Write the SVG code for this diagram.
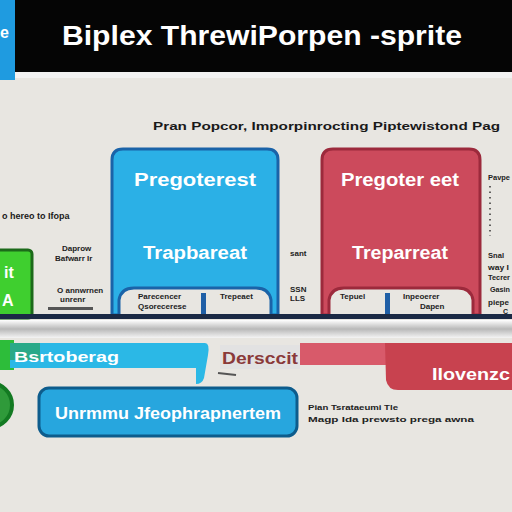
<svg xmlns="http://www.w3.org/2000/svg" width="512" height="512" viewBox="0 0 512 512">
<defs>
<linearGradient id="band" x1="0" y1="0" x2="0" y2="1">
<stop offset="0" stop-color="#ffffff"/><stop offset="0.5" stop-color="#b9b9b9"/><stop offset="1" stop-color="#f4f4f4"/>
</linearGradient>
</defs>
<style>
text{font-family:"Liberation Sans",Arial,sans-serif;font-weight:bold}
.w{fill:#ffffff}
.k{fill:#1a1a1a}
.sm{font-size:8px;fill:#222}
.rt{font-size:7px;fill:#222}
.lbl{font-size:18px;fill:#fff}
.bluebox{fill:#2bb0e6;stroke:#1a63a8;stroke-width:3}
.redbox{fill:#cc4a5c;stroke:#9c2a3c;stroke-width:3}
.bar{fill:#1f5fa6}
</style>
<rect x="0" y="0" width="512" height="512" fill="#e8e6e1"/>
<g id="header">
<rect x="0" y="0" width="512" height="72" fill="#050505"/>
<rect x="0" y="0" width="15" height="80" fill="#1f9be0"/>
<text x="0" y="38" font-size="16" class="w">e</text>
<rect x="15" y="72" width="497" height="6" fill="#f2f2f2"/>
<text x="62" y="45" font-size="27" class="w" textLength="400" lengthAdjust="spacingAndGlyphs">Biplex ThrewiPorpen -sprite</text>
</g>
<g id="subtitle">
<text x="153" y="130" font-size="11.5" class="k" textLength="347" lengthAdjust="spacingAndGlyphs">Pran Popcor, Imporpinrocting Piptewistond Pag</text>
</g>
<g id="node-blue">
<path class="bluebox" d="M112 160 Q112 149 123 149 H267 Q278 149 278 160 V315 H271 V300 Q269 288 256 288 H134 Q121 288 119 300 V315 H112 Z"/>
<text x="195" y="186" text-anchor="middle" class="lbl" textLength="122" lengthAdjust="spacingAndGlyphs">Pregoterest</text>
<text x="195" y="259" text-anchor="middle" class="lbl" textLength="104" lengthAdjust="spacingAndGlyphs">Trapbareat</text>
</g>
<g id="node-red">
<path class="redbox" d="M322 160 Q322 149 333 149 H469 Q480 149 480 160 V315 H473 V300 Q471 288 458 288 H344 Q331 288 329 300 V315 H322 Z"/>
<text x="400" y="186" text-anchor="middle" class="lbl" textLength="118" lengthAdjust="spacingAndGlyphs">Pregoter eet</text>
<text x="400" y="259" text-anchor="middle" class="lbl" textLength="96" lengthAdjust="spacingAndGlyphs">Treparreat</text>
</g>
<g id="node-green">
<rect x="-4" y="250" width="36" height="68" rx="4" fill="#3fcf2f" stroke="#1c6a1a" stroke-width="3"/>
<text x="4" y="278" font-size="16" class="w">it</text>
<text x="2" y="306" font-size="16" class="w">A</text>
</g>
<g id="connectors">
<rect class="bar" x="201" y="293" width="5" height="23"/>
<rect class="bar" x="385" y="293" width="5" height="23"/>
<rect x="0" y="314" width="512" height="5" fill="#1b2a45"/>
<rect x="0" y="320" width="512" height="18" fill="url(#band)"/>
</g>
<g id="labels">
<text x="2" y="219" font-size="9" class="k">o hereo to Ifopa</text>
<text x="62" y="251" class="sm">Daprow</text>
<text x="55" y="261" class="sm">Bafwarr Ir</text>
<text x="57" y="293" class="sm">O annwrnen</text>
<text x="60" y="302" class="sm">unrenr</text>
<rect x="48" y="307" width="45" height="3" fill="#555"/>
<text x="138" y="299" class="sm">Parecencer</text>
<text x="138" y="309" class="sm">Qsorecerese</text>
<text x="220" y="299" class="sm">Trepeaet</text>
<text x="290" y="256" class="sm">sant</text>
<text x="290" y="292" class="sm">SSN</text>
<text x="290" y="301" class="sm">LLS</text>
<text x="340" y="299" class="sm">Tepuel</text>
<text x="403" y="299" class="sm">Inpeoerer</text>
<text x="420" y="309" class="sm">Dapen</text>
<text x="488" y="180" class="rt" textLength="22" lengthAdjust="spacingAndGlyphs">Pavpe</text>
<line x1="490" y1="186" x2="490" y2="236" stroke="#333" stroke-width="1.5" stroke-dasharray="1.5 4"/>
<text x="488" y="258" class="rt" textLength="16" lengthAdjust="spacingAndGlyphs">Snal</text>
<text x="488" y="270" class="rt" textLength="21" lengthAdjust="spacingAndGlyphs">way I</text>
<text x="488" y="280" class="rt" textLength="22" lengthAdjust="spacingAndGlyphs">Tecrer</text>
<text x="490" y="292" class="rt" textLength="20" lengthAdjust="spacingAndGlyphs">Gasin</text>
<text x="488" y="305" class="rt" textLength="21" lengthAdjust="spacingAndGlyphs">piepe</text>
<text x="503" y="314" class="rt">C</text>
</g>
<g id="strip">
<rect x="0" y="340" width="14" height="30" fill="#2dbd3a"/>
<path d="M10 343 H205 Q210 343 208 355 L204 378 Q202 384 196 384 V368 H10 Z" fill="#2bb8e6"/>
<path d="M10 343 H40 V360 H10 Z" fill="#2a9e4a" opacity="0.6"/>
<text x="14" y="362" font-size="15" class="w" textLength="105" lengthAdjust="spacingAndGlyphs">Bsrtoberag</text>
<rect x="300" y="343" width="100" height="22" fill="#d85a6a"/>
<rect x="220" y="345" width="80" height="24" fill="#e2e2e2"/>
<text x="222" y="364" font-size="17" fill="#8a3a3a" textLength="76" lengthAdjust="spacingAndGlyphs">Dersccit</text>
<line x1="218" y1="373" x2="236" y2="375" stroke="#555" stroke-width="2"/>
<path d="M385 343 H512 V390 H398 Q388 390 386 380 Z" fill="#c8424f"/>
<text x="432" y="380" font-size="17" class="w" textLength="78" lengthAdjust="spacingAndGlyphs">Ilovenzc</text>
</g>
<g id="node-circle">
<circle cx="-10" cy="405" r="22" fill="#2f9a3a" stroke="#137a22" stroke-width="4"/>
</g>
<g id="node-bottom">
<rect x="39" y="388" width="258" height="48" rx="10" fill="#27a6de" stroke="#0d5c8c" stroke-width="3"/>
<text x="168" y="419" text-anchor="middle" font-size="17" class="w" textLength="226" lengthAdjust="spacingAndGlyphs">Unrmmu Jfeophrapnertem</text>
</g>
<g id="note">
<text x="308" y="410" class="sm" textLength="90" lengthAdjust="spacingAndGlyphs">Pian Tsrataeumi Tle</text>
<text x="308" y="422" class="sm" textLength="166" lengthAdjust="spacingAndGlyphs">Magp Ida prewsto prega awna</text>
</g>
</svg>
